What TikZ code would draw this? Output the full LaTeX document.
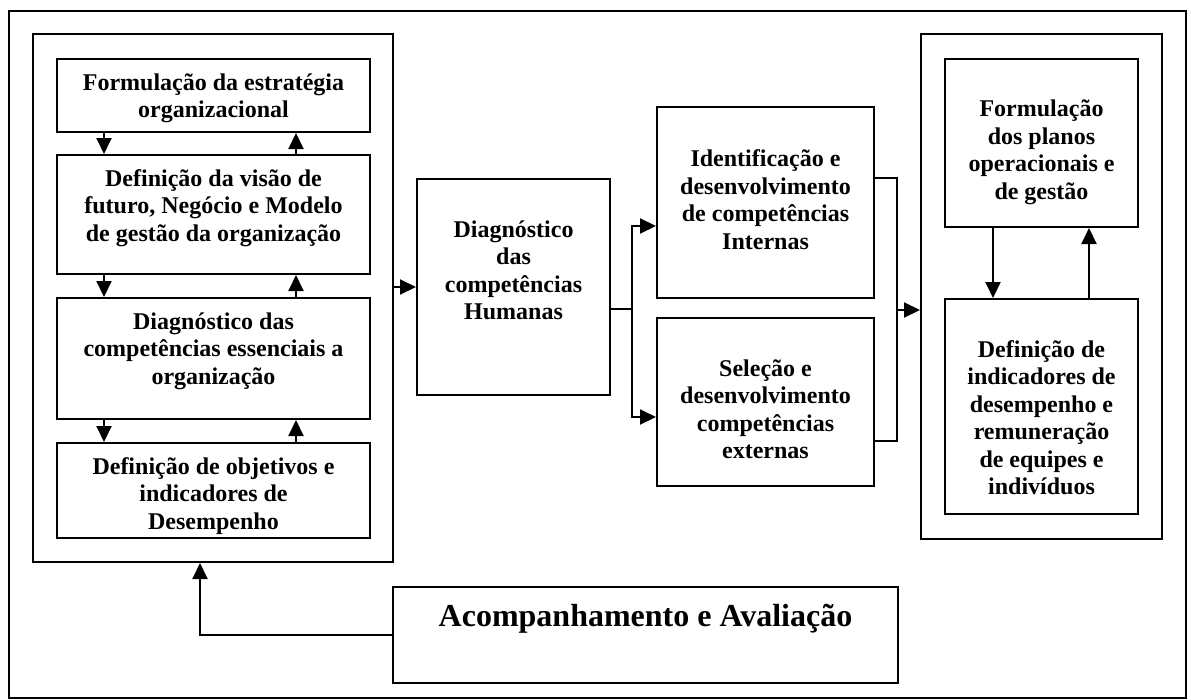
\documentclass[tikz,border=0pt]{standalone}
\usepackage{fontspec}
\setmainfont{Liberation Serif}
\usetikzlibrary{arrows.meta,calc}
\tikzset{
  box/.style={draw, line width=2pt, rectangle, inner sep=0pt, anchor=north west},
  txt/.style={anchor=north, inner sep=0pt, align=center, font=\bfseries\fontsize{24}{27.5}\selectfont},
  bigtxt/.style={anchor=north, inner sep=0pt, align=center, font=\bfseries\fontsize{32}{38}\selectfont},
  conn/.style={line width=2pt},
  arr/.style={line width=2pt, -{Triangle[length=16pt,width=15pt]}}
}
\begin{document}
\begin{tikzpicture}[x=1pt,y=-1pt]
\useasboundingbox (0,0) rectangle (1191,699);
% frames
\node[box, minimum width=1177pt, minimum height=687pt] (outer) at (8,10) {};
\node[box, minimum width=360pt, minimum height=528pt] (lg) at (32,33) {};
\node[box, minimum width=241pt, minimum height=505pt] (rg) at (920,33) {};
% left column boxes
\node[box, minimum width=313pt, minimum height=73pt] (b1) at (56,58) {};
\node[box, minimum width=313pt, minimum height=119pt] (b2) at (56,154) {};
\node[box, minimum width=313pt, minimum height=121pt] (b3) at (56,297) {};
\node[box, minimum width=313pt, minimum height=95pt] (b4) at (56,442) {};
% middle
\node[box, minimum width=193pt, minimum height=216pt] (diag) at (416,178) {};
\node[box, minimum width=217pt, minimum height=191pt] (ident) at (656,106) {};
\node[box, minimum width=217pt, minimum height=168pt] (sel) at (656,317) {};
% right
\node[box, minimum width=193pt, minimum height=168pt] (fp) at (944,58) {};
\node[box, minimum width=193pt, minimum height=215pt] (di) at (944,298) {};
% bottom
\node[box, minimum width=505pt, minimum height=96pt] (acomp) at (392,586) {};
% texts
\node[txt] (t1) at ($(b1.north)+(0,15.3)$) {Formulação da estratégia\\organizacional};
\node[txt] (t2) at ($(b2.north)+(0,15.3)$) {Definição da visão de\\futuro, Negócio e Modelo\\de gestão da organização};
\node[txt] (t3) at ($(b3.north)+(0,15.3)$) {Diagnóstico das\\competências essenciais a\\organização};
\node[txt] (t4) at ($(b4.north)+(0,15.3)$) {Definição de objetivos e\\indicadores de\\Desempenho};
\node[txt] (t5) at ($(diag.north)+(0,42.5)$) {Diagnóstico\\das\\competências\\Humanas};
\node[txt] (t6) at ($(ident.north)+(0,43.5)$) {Identificação e\\desenvolvimento\\de competências\\Internas};
\node[txt] (t7) at ($(sel.north)+(0,42.5)$) {Seleção e\\desenvolvimento\\competências\\externas};
\node[txt] (t8) at ($(fp.north)+(0,42)$) {Formulação\\dos planos\\operacionais e\\de gestão};
\node[txt] (t9) at ($(di.north)+(0,42)$) {Definição de\\indicadores de\\desempenho e\\remuneração\\de equipes e\\indivíduos};
\node[bigtxt] (t10) at ($(acomp.north)+(0,17.7)$) {Acompanhamento e Avaliação};
% helper coordinates
\coordinate (xl) at (104,0);
\coordinate (xr) at (296,0);
\coordinate (j1) at (632,309);
\coordinate (ya) at (0,226);
\coordinate (yb) at (0,417);
\coordinate (r1) at (897,178);
\coordinate (r2) at (897,441);
\coordinate (r3) at (897,310);
\coordinate (xd) at (993,0);
\coordinate (xu) at (1089,0);
\coordinate (fx) at (200,0);
% left column arrows
\draw[arr] (b1.south -| xl) -- (b2.north -| xl);
\draw[arr] (b2.north -| xr) -- (b1.south -| xr);
\draw[arr] (b2.south -| xl) -- (b3.north -| xl);
\draw[arr] (b3.north -| xr) -- (b2.south -| xr);
\draw[arr] (b3.south -| xl) -- (b4.north -| xl);
\draw[arr] (b4.north -| xr) -- (b3.south -| xr);
% left group to diagnostic
\draw[arr] (lg.east |- diag.west) -- (diag.west);
% diagnostic split
\draw[conn] (diag.east |- j1) -- (j1);
\draw[arr] (j1) |- (ident.west |- ya);
\draw[arr] (j1) |- (sel.west |- yb);
% merge to right group
\draw[conn] (ident.east |- r1) -- (r1) -- (r2) -- (sel.east |- r2);
\draw[arr] (r3) -- (rg.west |- r3);
% right column arrows
\draw[arr] (fp.south -| xd) -- (di.north -| xd);
\draw[arr] (di.north -| xu) -- (fp.south -| xu);
% feedback
\draw[arr] (acomp.west) -| (lg.south -| fx);
\end{tikzpicture}
\end{document}
